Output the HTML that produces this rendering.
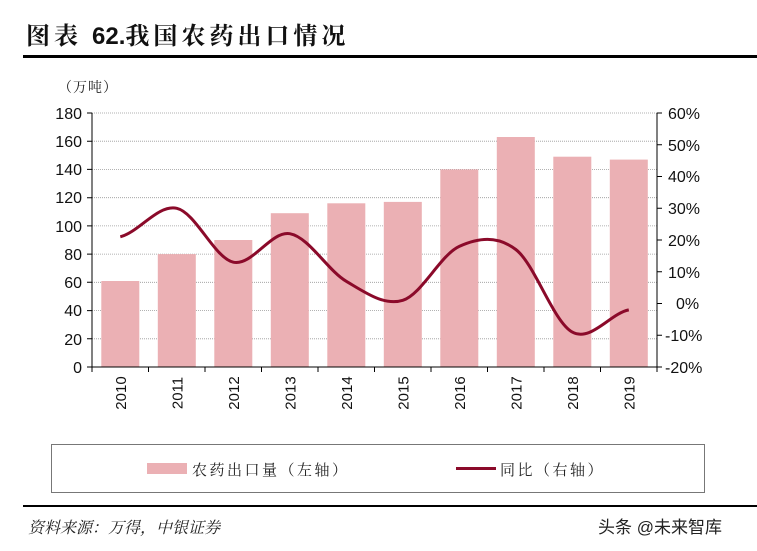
<!DOCTYPE html>
<html><head><meta charset="utf-8"><style>
body{margin:0;background:#fff;width:757px;height:551px;overflow:hidden}
svg{display:block}
</style></head><body>
<svg width="757" height="551" xmlns="http://www.w3.org/2000/svg" font-family="Liberation Sans, Noto Sans CJK SC, sans-serif">
<text x="26" y="44" font-family="Noto Serif CJK SC, serif" font-weight="bold" font-size="24" letter-spacing="4" fill="#111">图表 <tspan font-family="Liberation Sans, sans-serif" letter-spacing="0">62.</tspan>我国农药出口情况</text>
<rect x="23" y="55" width="734" height="3" fill="#000"/>
<text x="58" y="92" font-family="Noto Serif CJK SC, serif" font-size="14" letter-spacing="1" fill="#222">（万吨）</text>
<g stroke="#999" stroke-width="0.8" stroke-dasharray="1,1">
<line x1="92" y1="113" x2="657" y2="113"/><line x1="92" y1="141.2" x2="657" y2="141.2"/><line x1="92" y1="169.4" x2="657" y2="169.4"/><line x1="92" y1="197.7" x2="657" y2="197.7"/><line x1="92" y1="225.9" x2="657" y2="225.9"/><line x1="92" y1="254.1" x2="657" y2="254.1"/><line x1="92" y1="282.3" x2="657" y2="282.3"/><line x1="92" y1="310.6" x2="657" y2="310.6"/><line x1="92" y1="338.8" x2="657" y2="338.8"/>
</g>
<g fill="#ebb0b4">
<rect x="101.3" y="281" width="38" height="86"/>
<rect x="157.8" y="254.1" width="38" height="112.9"/>
<rect x="214.3" y="240" width="38" height="127"/>
<rect x="270.8" y="213.2" width="38" height="153.8"/>
<rect x="327.3" y="203.3" width="38" height="163.7"/>
<rect x="383.8" y="201.9" width="38" height="165.1"/>
<rect x="440.3" y="169.4" width="38" height="197.6"/>
<rect x="496.8" y="137" width="38" height="230"/>
<rect x="553.3" y="156.7" width="38" height="210.3"/>
<rect x="609.8" y="159.6" width="38" height="207.4"/>
</g>
<g stroke="#000" stroke-width="1" fill="none">
<line x1="92" y1="113" x2="92" y2="367"/><line x1="657" y1="113" x2="657" y2="367"/><line x1="92" y1="367" x2="657" y2="367"/>
<path d="M87 113h5M87 141.2h5M87 169.4h5M87 197.7h5M87 225.9h5M87 254.1h5M87 282.3h5M87 310.6h5M87 338.8h5M87 367h5"/>
<path d="M657 113h5M657 144.75h5M657 176.5h5M657 208.25h5M657 240h5M657 271.75h5M657 303.5h5M657 335.25h5M657 367h5"/>
<path d="M92 367v5M148.5 367v5M205 367v5M261.5 367v5M318 367v5M374.5 367v5M431 367v5M487.5 367v5M544 367v5M600.5 367v5M657 367v5"/>
</g>
<path d="M120.3,236.8 C139.1,232.05 158,204.07 176.8,208.3 C195.6,212.53 214.5,257.97 233.3,262.2 C252.1,266.43 271,230.52 289.8,233.7 C308.6,236.88 327.5,270.2 346.3,281.3 C365.1,292.4 384,306.12 402.8,300.3 C421.6,294.48 440.5,254.87 459.3,246.4 C478.1,237.93 497,235.22 515.8,249.5 C534.6,263.78 553.5,322.03 572.3,332.1 C591.1,342.17 610,313.6 628.8,309.9" fill="none" stroke="#8b0a2a" stroke-width="3"/>
<g font-size="16" fill="#111" text-anchor="end">
<text x="82" y="119">180</text><text x="82" y="147">160</text><text x="82" y="175">140</text><text x="82" y="203">120</text><text x="82" y="232">100</text><text x="82" y="260">80</text><text x="82" y="288">60</text><text x="82" y="316">40</text><text x="82" y="345">20</text><text x="82" y="373">0</text>
</g>
<g font-size="16" fill="#111" text-anchor="start">
<text x="668" y="119">60%</text><text x="668" y="151">50%</text><text x="668" y="182">40%</text><text x="668" y="214">30%</text><text x="668" y="246">20%</text><text x="668" y="278">10%</text><text x="676" y="309">0%</text><text x="665" y="341">-10%</text><text x="665" y="373">-20%</text>
</g>
<g font-size="15" fill="#111" text-anchor="middle">
<text transform="translate(126,393) rotate(-90)">2010</text>
<text transform="translate(182.5,393) rotate(-90)">2011</text>
<text transform="translate(239,393) rotate(-90)">2012</text>
<text transform="translate(295.5,393) rotate(-90)">2013</text>
<text transform="translate(352,393) rotate(-90)">2014</text>
<text transform="translate(408.5,393) rotate(-90)">2015</text>
<text transform="translate(465,393) rotate(-90)">2016</text>
<text transform="translate(521.5,393) rotate(-90)">2017</text>
<text transform="translate(578,393) rotate(-90)">2018</text>
<text transform="translate(634.5,393) rotate(-90)">2019</text>
</g>
<rect x="51.5" y="444.5" width="653" height="48" fill="none" stroke="#777" stroke-width="1"/>
<rect x="147" y="463" width="40" height="11" fill="#ebb0b4"/>
<text x="192" y="475" font-family="Noto Serif CJK SC, serif" font-size="15" letter-spacing="2.5" fill="#222">农药出口量（左轴）</text>
<rect x="456" y="467" width="40" height="3" fill="#8b0a2a"/>
<text x="500" y="475" font-family="Noto Serif CJK SC, serif" font-size="15" letter-spacing="2.5" fill="#222">同比（右轴）</text>
<rect x="23" y="505" width="734" height="2" fill="#000"/>
<text x="28" y="533" font-family="Noto Serif CJK SC, serif" font-style="italic" font-size="16" fill="#222">资料来源：万得，中银证券</text>
<text x="598" y="533" font-size="17" fill="#222">头条 @未来智库</text>
</svg>
</body></html>
